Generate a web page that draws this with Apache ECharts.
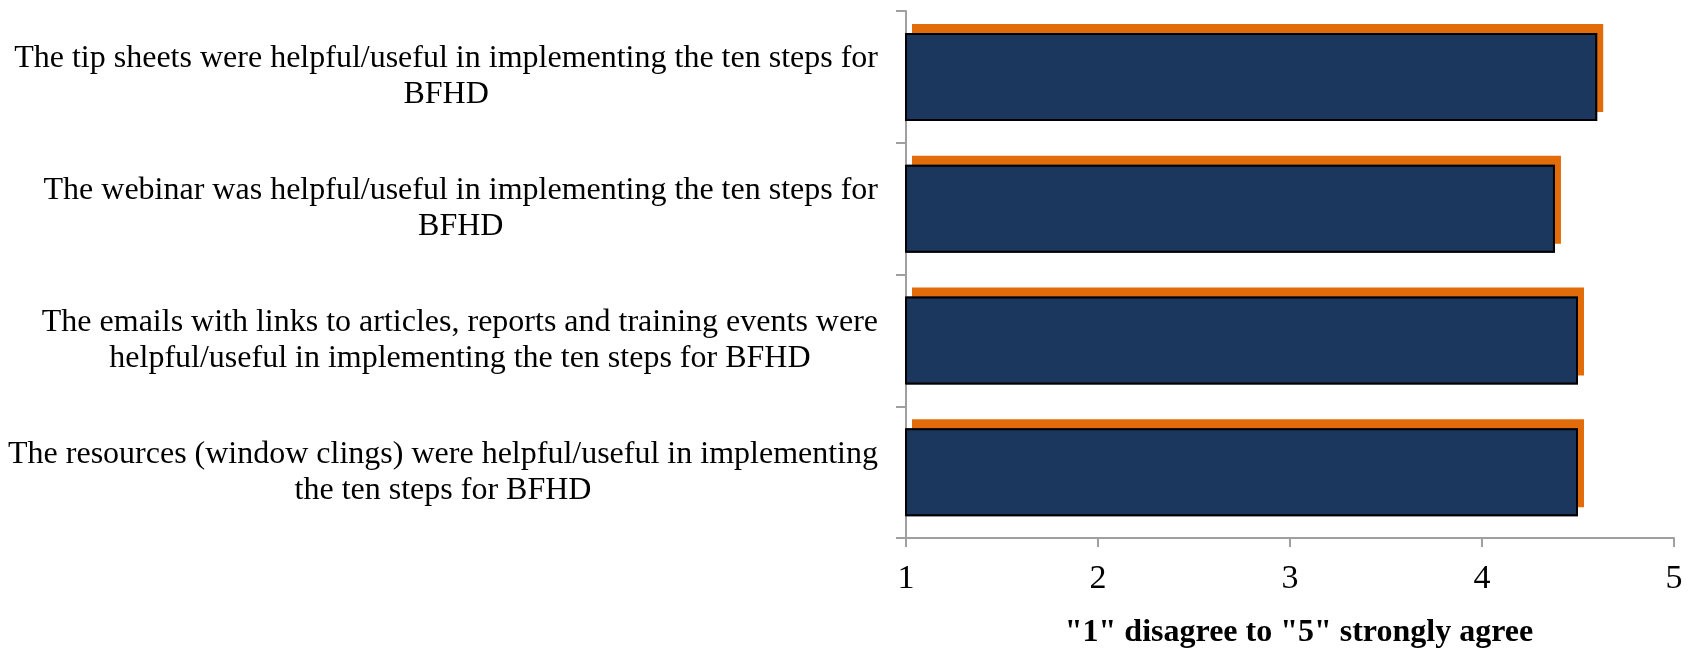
<!DOCTYPE html>
<html>
<head>
<meta charset="utf-8">
<script src="https://cdn.jsdelivr.net/npm/echarts@6/dist/echarts.min.js"></script>
<style>
html,body{margin:0;padding:0;background:#fff;}
#chart{width:1694px;height:651px;}
</style>
</head>
<body>
<div id="chart"></div>
<script>
const categories = [
  "The tip sheets were helpful/useful in implementing the ten steps for\nBFHD",
  "The webinar was helpful/useful in implementing the ten steps for\nBFHD",
  "The emails with links to articles, reports and training events were\nhelpful/useful in implementing the ten steps for BFHD",
  "The resources (window clings) were helpful/useful in implementing\nthe ten steps for BFHD"
];
const values = [4.60, 4.38, 4.50, 4.50];
const xTicks = [1, 2, 3, 4, 5];
const axisTitle = '"1" disagree to "5" strongly agree';

const FONT = "'Liberation Serif', 'Times New Roman', serif";
const chart = echarts.init(document.getElementById('chart'), null, {renderer: 'canvas'});
chart.setOption({
  animation: false,
  backgroundColor: '#ffffff',
  grid: {left: 906, right: 20, top: 11, bottom: 113, containLabel: false, outerBoundsMode: 'none'},
  xAxis: {
    type: 'value',
    min: xTicks[0],
    max: xTicks[xTicks.length - 1],
    interval: 1,
    name: axisTitle,
    nameLocation: 'middle',
    nameGap: 79,
    nameTextStyle: {fontFamily: FONT, fontSize: 32, fontWeight: 'bold', color: '#000', padding: [0, 0, 0, 18]},
    axisLine: {show: true, lineStyle: {color: '#a0a0a0', width: 2}},
    axisTick: {show: true, length: 9, lineStyle: {color: '#a0a0a0', width: 2}},
    splitLine: {show: false},
    axisLabel: {fontFamily: FONT, fontSize: 34, color: '#000', margin: 24}
  },
  yAxis: {
    type: 'category',
    inverse: true,
    data: categories,
    axisLine: {show: true, lineStyle: {color: '#a0a0a0', width: 2}},
    axisTick: {show: true, length: 10, lineStyle: {color: '#a0a0a0', width: 2}},
    axisLabel: {
      margin: 28,
      formatter: function (v) {
        return v.split('\n').map(function (l) { return '{c|' + l + '}'; }).join('\n');
      },
      rich: {
        c: {align: 'center', fontFamily: FONT, fontSize: 32, lineHeight: 36, color: '#000'}
      }
    }
  },
  series: [
    {
      type: 'bar',
      data: values,
      barWidth: 88,
      barGap: '-100%',
      itemStyle: {
        color: '#1b375e',
        shadowColor: '#e36c0a',
        shadowBlur: 0,
        shadowOffsetX: 6,
        shadowOffsetY: -9
      },
      silent: true
    },
    {
      type: 'bar',
      data: values,
      barWidth: 88,
      barGap: '-100%',
      itemStyle: {
        color: 'rgba(0,0,0,0)',
        borderColor: '#000',
        borderWidth: 2
      },
      silent: true
    }
  ]
});
</script>
</body>
</html>
